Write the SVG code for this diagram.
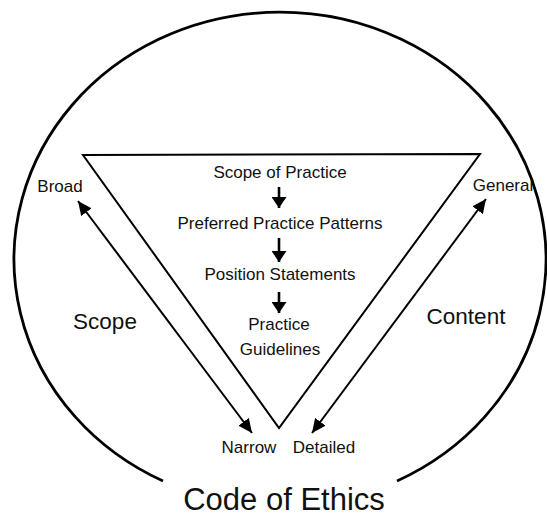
<svg xmlns="http://www.w3.org/2000/svg" width="547" height="516" viewBox="0 0 547 516">
<style>
  text { font-family: "Liberation Sans", Arial, sans-serif; fill: #111; text-anchor: middle; }
  .t { font-size: 17px; }
  .side { font-size: 22.5px; }
  .title { font-size: 31px; }
  .ln { stroke: #000; stroke-width: 2; fill: none; }
  .arr { stroke: #000; stroke-width: 2.6; fill: none; marker-end: url(#bighead); }
  .dbl { stroke: #000; stroke-width: 2; fill: none; marker-start: url(#head); marker-end: url(#head); }
</style>
<defs>
  <marker id="head" markerUnits="userSpaceOnUse" markerWidth="15" markerHeight="13" refX="14" refY="6.5" orient="auto-start-reverse">
    <path d="M0,0 L14,6.5 L0,13 z" fill="#000"/>
  </marker>
  <marker id="bighead" markerUnits="userSpaceOnUse" markerWidth="12" markerHeight="15" refX="11" refY="7.5" orient="auto">
    <path d="M0,0 L11,7.5 L0,15 z" fill="#000"/>
  </marker>
</defs>
<rect width="547" height="516" fill="#fff"/>
<g id="ethics">
  <path d="M163 481 A266 247 0 1 1 397 481" stroke="#000" stroke-width="2.8" fill="none"/>
  <text class="title" x="284" y="510">Code of Ethics</text>
</g>
<g id="triangle">
  <path class="ln" d="M83 155 L480 154 L279 428 Z" stroke-linejoin="miter"/>
</g>
<g id="scope-of-practice"><text class="t" x="280" y="178">Scope of Practice</text></g>
<g id="preferred"><text class="t" x="280" y="229">Preferred Practice Patterns</text></g>
<g id="position"><text class="t" x="280" y="280">Position Statements</text></g>
<g id="guidelines"><text class="t" x="279" y="330">Practice</text><text class="t" x="280" y="355">Guidelines</text></g>
<g id="labels">
  <text class="t" x="60" y="192">Broad</text>
  <text class="t" x="503" y="191">General</text>
  <text class="t" x="249" y="453">Narrow</text>
  <text class="t" x="324" y="453">Detailed</text>
  <text class="side" x="105" y="329">Scope</text>
  <text class="side" x="466" y="324">Content</text>
</g>
<g id="connectors">
  <line class="arr" x1="279" y1="187" x2="279" y2="208"/>
  <line class="arr" x1="279" y1="238" x2="279" y2="262"/>
  <line class="arr" x1="279" y1="292" x2="279" y2="313"/>
  <line class="dbl" x1="78" y1="201" x2="252" y2="433"/>
  <line class="dbl" x1="312" y1="433" x2="486" y2="199"/>
</g>
</svg>
